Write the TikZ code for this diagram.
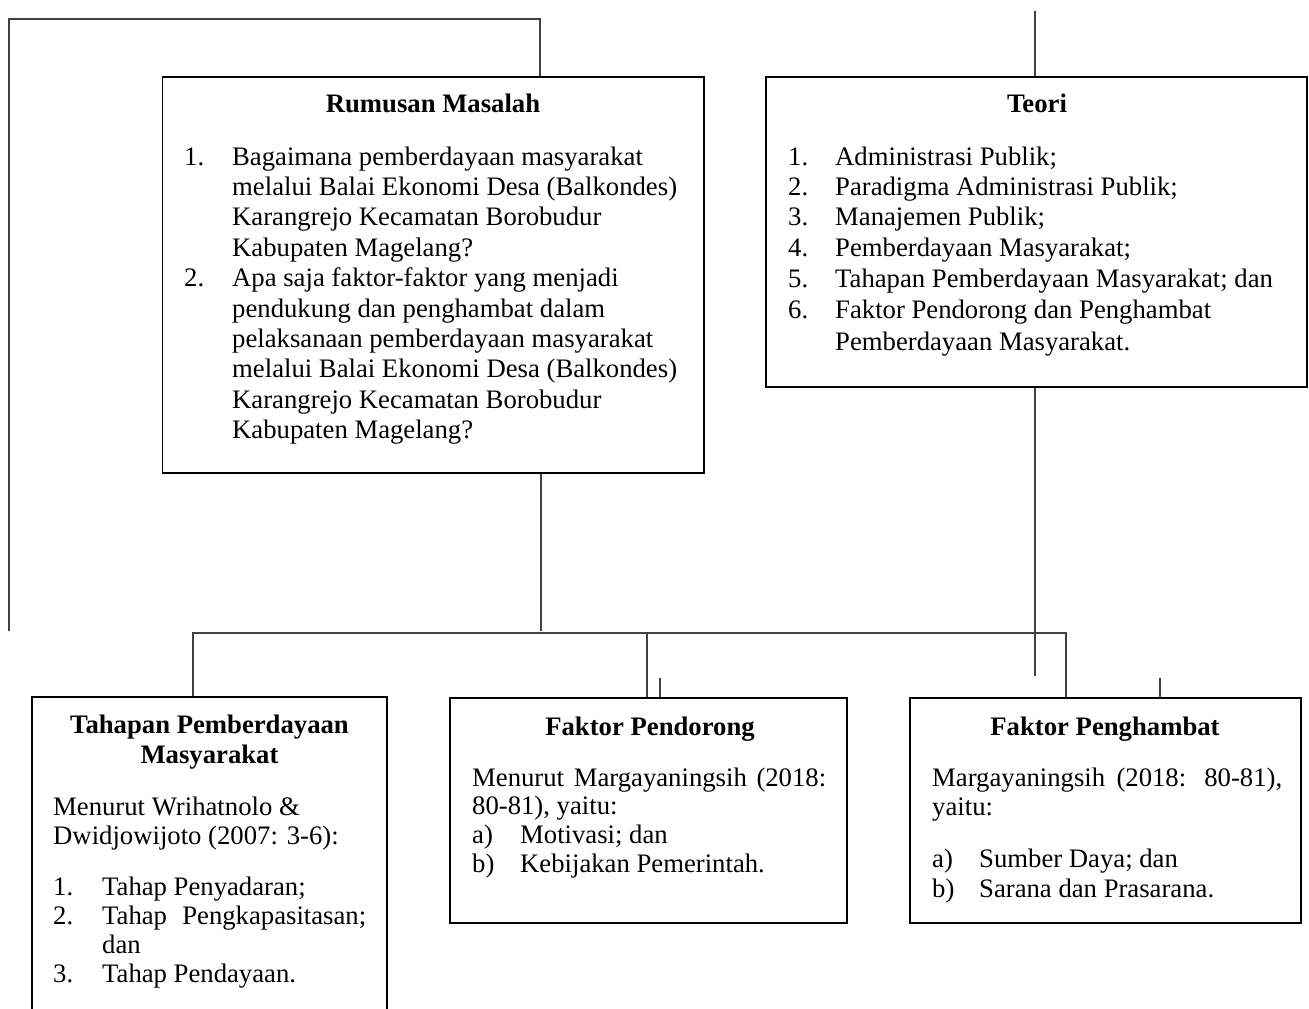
\documentclass[tikz,border=0pt]{standalone}
\usepackage{fontspec}
\setmainfont{Liberation Serif}
\begin{document}
\begin{tikzpicture}[x=1pt,y=-1pt,
  box/.style={draw=black,line width=1.6pt,inner sep=0pt},
  conn/.style={draw=black!75,line width=1.3pt},
  txt/.style={inner sep=0pt,anchor=base west,font=\fontsize{26.7}{30.4}\selectfont},
  ttl/.style={inner sep=0pt,anchor=base,font=\fontsize{26.7}{30.4}\selectfont\bfseries}]
\useasboundingbox (0,0) rectangle (1309,1009);

% boxes
\node[box,minimum width=541.5pt,minimum height=396pt] (rm) at (433.25,275) {};
\node[box,minimum width=541pt,minimum height=310pt] (te) at (1036.5,232) {};
\node[box,minimum width=355pt,minimum height=330pt] (tp) at (209.5,862) {};
\node[box,minimum width=397pt,minimum height=225pt] (fp) at (648.5,810.5) {};
\node[box,minimum width=391pt,minimum height=225pt] (fh) at (1105.5,810.5) {};

% Rumusan Masalah
\node[ttl] (rmt) at (433,112) {Rumusan Masalah};
\node[txt] (rml) at (184,165) {\begin{tabular}[t]{@{}p{48pt}@{}l@{}}
1.&Bagaimana pemberdayaan masyarakat\\
&melalui Balai Ekonomi Desa (Balkondes)\\
&Karangrejo Kecamatan Borobudur\\
&Kabupaten Magelang?\\
2.&Apa saja faktor-faktor yang menjadi\\
&pendukung dan penghambat dalam\\
&pelaksanaan pemberdayaan masyarakat\\
&melalui Balai Ekonomi Desa (Balkondes)\\
&Karangrejo Kecamatan Borobudur\\
&Kabupaten Magelang?
\end{tabular}};

% Teori
\node[ttl] (tet) at (1037,112) {Teori};
\node[txt] (tel) at (788,165) {\begin{tabular}[t]{@{}p{47pt}@{}l@{}}
1.&Administrasi Publik;\\
2.&Paradigma Administrasi Publik;\\
3.&Manajemen Publik;\\
4.&Pemberdayaan Masyarakat;\\[0.5pt]
5.&Tahapan Pemberdayaan Masyarakat; dan\\[1pt]
6.&Faktor Pendorong dan Penghambat\\[1.5pt]
&Pemberdayaan Masyarakat.
\end{tabular}};

% Tahapan Pemberdayaan Masyarakat
\node[ttl] (tpt) at (209.5,733) {\begin{tabular}[t]{@{}c@{}}Tahapan Pemberdayaan\\Masyarakat\end{tabular}};
\node[txt] (tpl) at (53,815) {\begin{tabular}[t]{@{}p{49pt}@{}l@{}}
\multicolumn{2}{@{}l@{}}{Menurut Wrihatnolo \&}\\[-1pt]
\multicolumn{2}{@{}l@{}}{Dwidjowijoto (2007: 3-6):}\\[21pt]
1.&Tahap Penyadaran;\\[-1.5pt]
2.&\makebox[264pt][s]{Tahap Pengkapasitasan;}\\[-1.5pt]
&dan\\[-1.5pt]
3.&Tahap Pendayaan.
\end{tabular}};

% Faktor Pendorong
\node[ttl] (fpt) at (650,735) {Faktor Pendorong};
\node[txt] (fpl) at (472,786) {\begin{tabular}[t]{@{}p{48pt}@{}l@{}}
\multicolumn{2}{@{}l@{}}{\makebox[354pt][s]{Menurut Margayaningsih (2018:}}\\[-1.5pt]
\multicolumn{2}{@{}l@{}}{80-81), yaitu:}\\[-1.5pt]
a)&Motivasi; dan\\[-1.5pt]
b)&Kebijakan Pemerintah.
\end{tabular}};

% Faktor Penghambat
\node[ttl] (fht) at (1105,735) {Faktor Penghambat};
\node[txt] (fhl) at (932,786) {\begin{tabular}[t]{@{}p{47pt}@{}l@{}}
\multicolumn{2}{@{}l@{}}{\makebox[350pt][s]{Margayaningsih (2018: 80-81),}}\\[-1pt]
\multicolumn{2}{@{}l@{}}{yaitu:}\\[22pt]
a)&Sumber Daya; dan\\[-1pt]
b)&Sarana dan Prasarana.
\end{tabular}};

% connector points
\coordinate (la) at (9,631);
\coordinate (lb) at (540,19);
\coordinate (tt) at (1035,11);
\coordinate (tb) at (1035,676);
\coordinate (rb) at (541,631);
\coordinate (hL) at (193,633);
\coordinate (hR) at (1066,633);
\coordinate (v2) at (647,633);
\coordinate (k1) at (660,678);
\coordinate (k2) at (1160,678);

% connectors
\draw[conn] (la) |- (lb) -- (lb |- rm.north);
\draw[conn] (tt) -- (tt |- te.north);
\draw[conn] (tb |- te.south) -- (tb);
\draw[conn] (rb |- rm.south) -- (rb);
\draw[conn] (tp.north -| hL) |- (hR) -- (hR |- fh.north);
\draw[conn] (v2) -- (v2 |- fp.north);
\draw[conn] (k1) -- (k1 |- fp.north);
\draw[conn] (k2) -- (k2 |- fh.north);
\end{tikzpicture}
\end{document}
